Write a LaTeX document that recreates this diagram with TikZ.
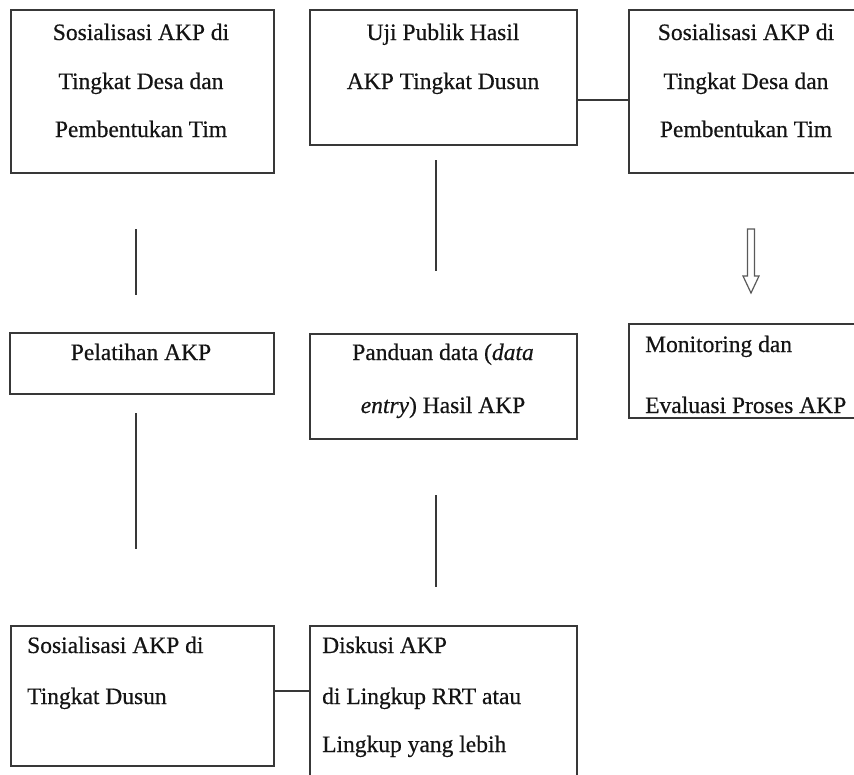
\documentclass[tikz,border=0pt]{standalone}
\usepackage{fontspec}
\setmainfont{Liberation Serif}[FakeBold=0.5]
\begin{document}
\begin{tikzpicture}[x=1pt,y=-1pt,
  box/.style={draw=black!78, line width=1.7pt, rectangle, inner sep=0pt, anchor=north west},
  lbl/.style={inner sep=0pt, anchor=base, font=\fontsize{23.5}{28}\selectfont, text=black!92},
  lbll/.style={lbl, anchor=base west},
  link/.style={draw=black!78, line width=1.7pt},
  hollow/.style={draw=black!65, line width=1.2pt, fill=white, line join=miter}]
\useasboundingbox (0,0) rectangle (854,774);
\clip (0,0) rectangle (854,774);
% boxes
\node[box, minimum width=263pt, minimum height=163pt] (b1) at (10,9) {};
\node[box, minimum width=267pt, minimum height=135pt] (b2) at (309,9) {};
\node[box, minimum width=236pt, minimum height=163pt] (b3) at (628,9) {};
\node[box, minimum width=264pt, minimum height=61pt] (b4) at (9,332) {};
\node[box, minimum width=267pt, minimum height=105pt] (b5) at (309,333) {};
\node[box, minimum width=236pt, minimum height=94pt] (b6) at (628,323) {};
\node[box, minimum width=263pt, minimum height=140pt] (b7) at (10,625) {};
\node[box, minimum width=267pt, minimum height=170pt] (b8) at (309,625) {};
% texts
\node[lbl] (t1a) at (141,40) {Sosialisasi AKP di};
\node[lbl] (t1b) at (141,89) {Tingkat Desa dan};
\node[lbl] (t1c) at (141,137) {Pembentukan Tim};
\node[lbl] (t2a) at (443,40) {Uji Publik Hasil};
\node[lbl] (t2b) at (443,89) {AKP Tingkat Dusun};
\node[lbl] (t3a) at (746,40) {Sosialisasi AKP di};
\node[lbl] (t3b) at (746,89) {Tingkat Desa dan};
\node[lbl] (t3c) at (746,137) {Pembentukan Tim};
\node[lbl] (t4a) at (141,360) {Pelatihan AKP};
\node[lbl] (t5a) at (443,360) {Panduan data (\textit{data}};
\node[lbl] (t5b) at (443,413) {\textit{entry}) Hasil AKP};
\node[lbll] (t6a) at (645,352) {Monitoring dan};
\node[lbll] (t6b) at (645,413) {Evaluasi Proses AKP};
\node[lbll] (t7a) at (27,653) {Sosialisasi AKP di};
\node[lbll] (t7b) at (27,704) {Tingkat Dusun};
\node[lbll] (t8a) at (322,653) {Diskusi AKP};
\node[lbll] (t8b) at (322,704) {di Lingkup RRT atau};
\node[lbll] (t8c) at (322,752) {Lingkup yang lebih};
% connectors between boxes
\path ([yshift=-22.5pt]b2.east) coordinate (c2);
\draw[link] (c2) -- (c2 -| b3.west);
\path ([yshift=5pt]b7.east) coordinate (c7);
\draw[link] (c7) -- (c7 -| b8.west);
% free-standing vertical lines
\coordinate (l1s) at (136,229); \coordinate (l1e) at (136,295);
\coordinate (l2s) at (436,160); \coordinate (l2e) at (436,271);
\coordinate (l3s) at (136,413); \coordinate (l3e) at (136,549);
\coordinate (l4s) at (436,495); \coordinate (l4e) at (436,587);
\draw[link] (l1s) -- (l1e);
\draw[link] (l2s) -- (l2e);
\draw[link] (l3s) -- (l3e);
\draw[link] (l4s) -- (l4e);
% hollow down arrow
\coordinate (atip) at (751,293);
\draw[hollow] (747.5,229) -- (754.5,229) -- (754.5,276) -- (759,276) -- (atip)
  -- (743,276) -- (747.5,276) -- cycle;
\end{tikzpicture}
\end{document}
